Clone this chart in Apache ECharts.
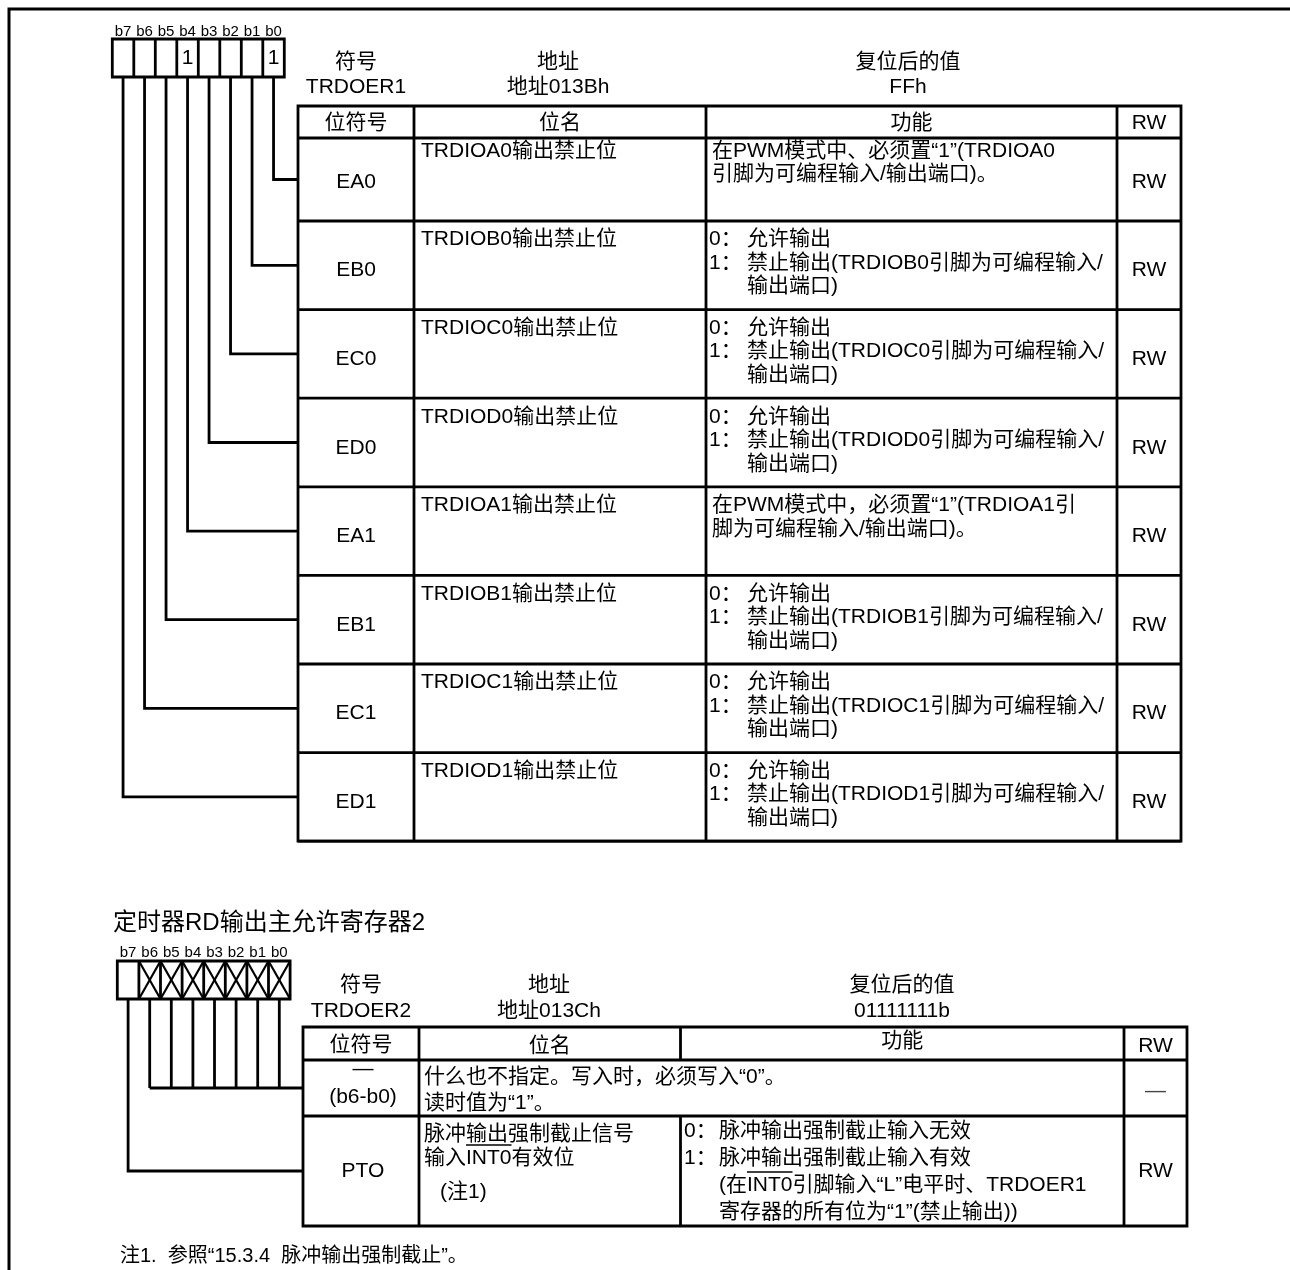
<!DOCTYPE html>
<html>
<head>
<meta charset="utf-8">
<script src="https://cdn.jsdelivr.net/npm/echarts@6/dist/echarts.min.js"></script>
<style>
  html, body { margin: 0; padding: 0; background: #fff; }
  #chart { width: 1290px; height: 1270px; }
</style>
</head>
<body>
<div id="chart"></div>
<script>
// ---------------- DATA ----------------
const bitLabels = ['b7', 'b6', 'b5', 'b4', 'b3', 'b2', 'b1', 'b0'];
const headerTitles = ['符号', '地址', '复位后的值'];
const columnHeaders = ['位符号', '位名', '功能', 'RW'];

// Register 1: TRDOER1
const reg1BitValues = ['', '', '', '1', '', '', '', '1'];
const reg1HeaderValues = ['TRDOER1', '地址013Bh', 'FFh'];
const reg1Symbols = ['EA0', 'EB0', 'EC0', 'ED0', 'EA1', 'EB1', 'EC1', 'ED1'];
const reg1Names = [
  'TRDIOA0输出禁止位', 'TRDIOB0输出禁止位', 'TRDIOC0输出禁止位', 'TRDIOD0输出禁止位',
  'TRDIOA1输出禁止位', 'TRDIOB1输出禁止位', 'TRDIOC1输出禁止位', 'TRDIOD1输出禁止位'
];
const reg1Functions = [
  ['在PWM模式中、必须置“1”(TRDIOA0', '引脚为可编程输入/输出端口)。'],
  ['0：允许输出', '1：禁止输出(TRDIOB0引脚为可编程输入/', '输出端口)'],
  ['0：允许输出', '1：禁止输出(TRDIOC0引脚为可编程输入/', '输出端口)'],
  ['0：允许输出', '1：禁止输出(TRDIOD0引脚为可编程输入/', '输出端口)'],
  ['在PWM模式中，必须置“1”(TRDIOA1引', '脚为可编程输入/输出端口)。'],
  ['0：允许输出', '1：禁止输出(TRDIOB1引脚为可编程输入/', '输出端口)'],
  ['0：允许输出', '1：禁止输出(TRDIOC1引脚为可编程输入/', '输出端口)'],
  ['0：允许输出', '1：禁止输出(TRDIOD1引脚为可编程输入/', '输出端口)']
];
const reg1Access = ['RW', 'RW', 'RW', 'RW', 'RW', 'RW', 'RW', 'RW'];

// Register 2: TRDOER2
const reg2Title = '定时器RD输出主允许寄存器2';
const reg2BitValues = ['', 'X', 'X', 'X', 'X', 'X', 'X', 'X'];
const reg2HeaderValues = ['TRDOER2', '地址013Ch', '01111111b'];
const reg2Symbols = [['—', '(b6-b0)'], ['PTO']];
const reg2Names = [
  ['什么也不指定。写入时，必须写入“0”。', '读时值为“1”。'],
  ['脉冲输出强制截止信号', '输入INT0有效位', '(注1)']
];
const reg2Functions = [
  [],
  ['0：脉冲输出强制截止输入无效', '1：脉冲输出强制截止输入有效', '(在INT0引脚输入“L”电平时、TRDOER1', '寄存器的所有位为“1”(禁止输出))']
];
const reg2Access = ['—', 'RW'];
const footnote = '注1.  参照“15.3.4  脉冲输出强制截止”。';

// ---------------- LAYOUT / DRAWING ----------------
const FONT = '"Liberation Sans", Arial, "Noto Sans CJK SC", sans-serif';
const LW = 2.8;
const els = [];
const measureCtx = document.createElement('canvas').getContext('2d');
function tw(text, size) { measureCtx.font = size + 'px ' + FONT; return measureCtx.measureText(text).width; }

function T(text, x, y, size, align, color) {
  els.push({
    type: 'text', silent: true, z: 10,
    style: {
      text: text, x: x, y: y, fill: color || '#000',
      font: size + 'px ' + FONT,
      textAlign: align || 'left', align: align || 'left',
      textVerticalAlign: 'middle', verticalAlign: 'middle'
    }
  });
}
function L(x1, y1, x2, y2, w) {
  els.push({ type: 'line', silent: true, shape: { x1, y1, x2, y2 }, style: { stroke: '#000', lineWidth: w || LW } });
}
function P(points, w) {
  els.push({ type: 'polyline', silent: true, shape: { points }, style: { stroke: '#000', lineWidth: w || LW, fill: null } });
}
function R(x, y, w, h, lw) {
  els.push({ type: 'rect', silent: true, shape: { x, y, width: w, height: h }, style: { stroke: '#000', fill: null, lineWidth: lw || LW } });
}

// text line with optional INT0 overline
function lineText(text, x, y, size) {
  T(text, x, y, size);
  const k = text.indexOf('INT0');
  if (k >= 0) {
    const x0 = x + tw(text.slice(0, k), size);
    const x1 = x0 + tw('INT0', size);
    L(x0, y - 13, x1, y - 13, 1.5);
  }
}

// Outer frame
P([[9, 1270], [9, 9], [1290, 9]], 3);

// Bit box helper
function bitBox(x0, y0, cw, h, values, labelY) {
  R(x0, y0, cw * 8, h);
  for (let i = 1; i < 8; i++) L(x0 + cw * i, y0, x0 + cw * i, y0 + h);
  for (let i = 0; i < 8; i++) {
    const cx = x0 + cw * (i + 0.5);
    T(bitLabels[i], cx, labelY, 15, 'center');
    if (values[i] === 'X') {
      L(x0 + cw * i, y0, x0 + cw * (i + 1), y0 + h, 2.2);
      L(x0 + cw * (i + 1), y0, x0 + cw * i, y0 + h, 2.2);
    } else if (values[i]) {
      T(values[i], cx, y0 + h / 2, 21, 'center');
    }
  }
}

// ===== Register 1 =====
const b1x = 112.3, b1y = 39, b1cw = 21.5, b1h = 38;
bitBox(b1x, b1y, b1cw, b1h, reg1BitValues, 32);

const h1Centers = [356, 558, 908];
for (let i = 0; i < 3; i++) {
  T(headerTitles[i], h1Centers[i], 62, 21, 'center');
  T(reg1HeaderValues[i], h1Centers[i], 87, 21, 'center');
}

const t1x = [298, 414, 706, 1117, 1181];
const t1Top = 106, t1Head = 138;
const t1RowBottoms = reg1Symbols.map((_, i) => 221 + i * 88.6);
const t1Bottom = t1RowBottoms[t1RowBottoms.length - 1];
R(t1x[0], t1Top, t1x[4] - t1x[0], t1Bottom - t1Top);
for (let c = 1; c < 4; c++) L(t1x[c], t1Top, t1x[c], t1Bottom);
L(t1x[0], t1Head, t1x[4], t1Head);
t1RowBottoms.forEach(rb => L(t1x[0], rb, t1x[4], rb));
for (let c = 0; c < 4; c++) T(columnHeaders[c], (t1x[c] + t1x[c + 1]) / 2, 123, 21, 'center');

reg1Symbols.forEach((sym, r) => {
  const rb = t1RowBottoms[r];
  const rt = r === 0 ? t1Head : t1RowBottoms[r - 1];
  T(sym, (t1x[0] + t1x[1]) / 2, rb - 39, 21, 'center');
  T(reg1Names[r], 421, rb - 70, 21);
  const lines = reg1Functions[r];
  const hasPrefix = lines.some(s => /^[01]：/.test(s));
  lines.forEach((s, j) => {
    const y = rb - 70 + j * 23.5;
    if (/^[01]：/.test(s)) {
      T(s.slice(0, 2), 709, y, 21);
      T(s.slice(2), 747, y, 21);
    } else {
      T(s, hasPrefix ? 747 : 712, y, 21);
    }
  });
  T(reg1Access[r], (t1x[3] + t1x[4]) / 2, rb - 39, 21, 'center');
  // connector from bit (b0 -> row 0)
  const bi = 7 - r;
  const cx = b1x + b1cw * (bi + 0.5);
  const cy = (rt + rb) / 2;
  P([[cx, b1y + b1h], [cx, cy], [t1x[0], cy]]);
});

// ===== Register 2 =====
T(reg2Title, 113, 923, 24);
const b2x = 117.3, b2y = 961, b2cw = 21.6, b2h = 38;
bitBox(b2x, b2y, b2cw, b2h, reg2BitValues, 953);

const h2Centers = [361, 549, 902];
for (let i = 0; i < 3; i++) {
  T(headerTitles[i], h2Centers[i], 985, 21, 'center');
  T(reg2HeaderValues[i], h2Centers[i], 1011, 21, 'center');
}

const t2x = [303, 419, 680.5, 1124, 1187];
const t2Top = 1027, t2Head = 1060;
const t2RowBottoms = [1116, 1226];
R(t2x[0], t2Top, t2x[4] - t2x[0], t2RowBottoms[1] - t2Top);
L(t2x[1], t2Top, t2x[1], t2RowBottoms[1]);
L(t2x[3], t2Top, t2x[3], t2RowBottoms[1]);
L(t2x[2], t2Top, t2x[2], t2Head);
L(t2x[2], t2RowBottoms[0], t2x[2], t2RowBottoms[1]);
L(t2x[0], t2Head, t2x[4], t2Head);
L(t2x[0], t2RowBottoms[0], t2x[4], t2RowBottoms[0]);
const t2HeadY = [1045, 1046, 1041, 1046];
for (let c = 0; c < 4; c++) T(columnHeaders[c], (t2x[c] + t2x[c + 1]) / 2, t2HeadY[c], 21, 'center');

// row 0 : reserved bits
T(reg2Symbols[0][0], 363, 1069, 21, 'center');
T(reg2Symbols[0][1], 363, 1097, 21, 'center');
reg2Names[0].forEach((s, j) => lineText(s, 424, 1077 + j * 26.5, 21));
T(reg2Access[0], (t2x[3] + t2x[4]) / 2, 1091, 21, 'center', '#444');

// row 1 : PTO
T(reg2Symbols[1][0], 363, 1171, 21, 'center');
const nameY = [1134, 1158, 1192];
const nameX = [424, 424, 440];
reg2Names[1].forEach((s, j) => lineText(s, nameX[j], nameY[j], 21));
reg2Functions[1].forEach((s, j) => {
  const y = 1131 + j * 27;
  if (/^[01]：/.test(s)) {
    T(s.slice(0, 2), 684, y, 21);
    lineText(s.slice(2), 719, y, 21);
  } else {
    lineText(s, 719, y, 21);
  }
});
T(reg2Access[1], (t2x[3] + t2x[4]) / 2, 1171, 21, 'center');

// connectors register 2
const cy0 = (t2Head + t2RowBottoms[0]) / 2;
const cy1 = (t2RowBottoms[0] + t2RowBottoms[1]) / 2;
for (let i = 1; i < 8; i++) {
  const cx = b2x + b2cw * (i + 0.5);
  L(cx, b2y + b2h, cx, cy0);
}
L(b2x + b2cw * 1.5, cy0, t2x[0], cy0);
P([[b2x + b2cw * 0.5, b2y + b2h], [b2x + b2cw * 0.5, cy1], [t2x[0], cy1]]);

// footnote
T(footnote, 120, 1256, 20);

const chart = echarts.init(document.getElementById('chart'), null, { renderer: 'canvas' });
chart.setOption({
  backgroundColor: '#fff',
  animation: false,
  graphic: { elements: els }
});
</script>
</body>
</html>
